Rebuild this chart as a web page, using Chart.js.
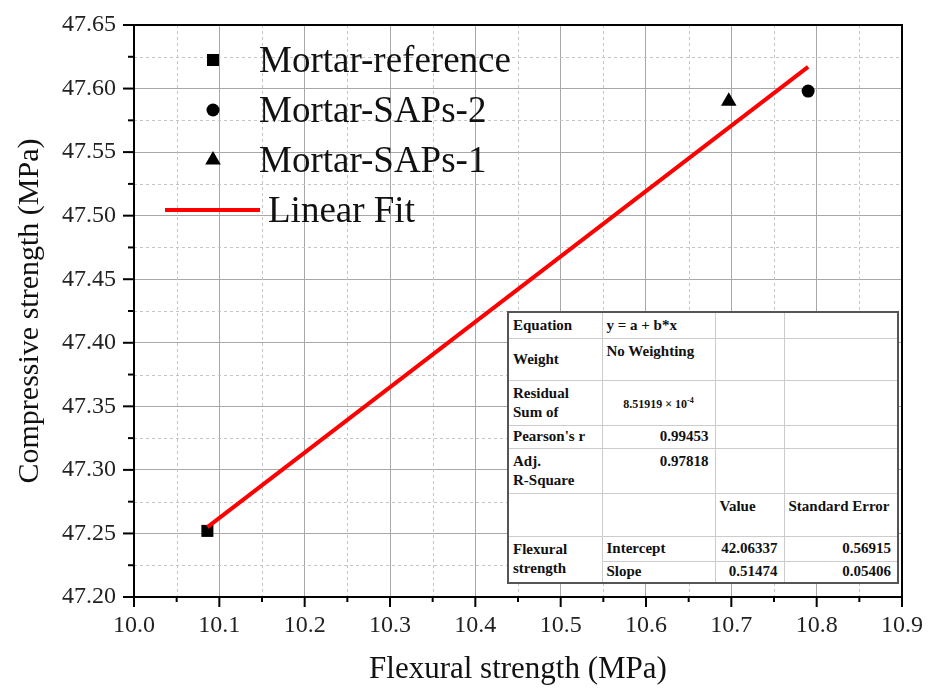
<!DOCTYPE html>
<html>
<head>
<meta charset="utf-8">
<script src="https://cdn.jsdelivr.net/npm/chart.js@4.4.1/dist/chart.umd.min.js"></script>
<style>
  body { margin: 0; background: #fff; }
  #wrap { position: relative; width: 930px; height: 691px; }
  #fit-table {
    position: absolute; left: 507px; top: 311px; width: 390px;
    border-collapse: collapse; table-layout: fixed; background: #fff;
    font-family: "Liberation Serif", serif; font-weight: bold; font-size: 15px; color: #111;
    border: 2px solid #555;
  }
  #fit-table td { border: 1px solid #ccc; padding: 0 4px; line-height: 19px; vertical-align: middle; white-space: nowrap; }
  #fit-table td.top { vertical-align: top; padding-top: 3px; }
  #fit-table td.num { text-align: right; padding-right: 6px; }
  #fit-table td.sci { text-align: center; font-size: 12px; }
</style>
</head>
<body>
<div id="wrap">
  <canvas id="chart" width="930" height="691"></canvas>
  <table id="fit-table">
    <colgroup><col style="width:94px"><col style="width:113px"><col style="width:69px"><col style="width:114px"></colgroup>
    <tr style="height:26px"><td>Equation</td><td>y = a + b*x</td><td></td><td></td></tr>
    <tr style="height:42px"><td>Weight</td><td class="top">No Weighting</td><td></td><td></td></tr>
    <tr style="height:45px"><td>Residual<br>Sum of</td><td class="sci">8.51919 × 10<sup style="font-size:8px">-4</sup></td><td></td><td></td></tr>
    <tr style="height:23px"><td>Pearson's r</td><td class="num">0.99453</td><td></td><td></td></tr>
    <tr style="height:45px"><td>Adj.<br>R-Square</td><td class="num top">0.97818</td><td></td><td></td></tr>
    <tr style="height:43px"><td></td><td></td><td class="top">Value</td><td class="top">Standard Error</td></tr>
    <tr style="height:25px"><td rowspan="2">Flexural<br>strength</td><td>Intercept</td><td class="num">42.06337</td><td class="num">0.56915</td></tr>
    <tr style="height:22px"><td>Slope</td><td class="num">0.51474</td><td class="num">0.05406</td></tr>
  </table>
</div>
<script>
// Data
const refX = [10.086];
const refY = [47.252];
const saps2X = [10.79];
const saps2Y = [47.598];
const saps1X = [10.697];
const saps1Y = [47.590];
const fitX = [10.086, 10.79];
const fitY = [47.255, 47.617];

const seriesNames = ['Mortar-reference', 'Mortar-SAPs-2', 'Mortar-SAPs-1', 'Linear Fit'];

const FONT = '"Liberation Serif", "Times New Roman", serif';

function toPoints(xs, ys) {
  return xs.map((x, i) => ({ x: x, y: ys[i] }));
}

// major ticks every 0.05 (y) / 0.1 (x), minor halfway
function isMajorY(v) { return Math.round(v * 1000) % 50 === 0; }
function isMajorX(v) { return Math.round(v * 100) % 10 === 0; }

// Plugin: dashed minor grid, frame, tick marks, legend
const decorations = {
  id: 'decorations',
  beforeDatasetsDraw(chart) {
    const { ctx, chartArea: a, scales: { x, y } } = chart;
    ctx.save();
    ctx.strokeStyle = '#c4c4c4';
    ctx.lineWidth = 1;
    ctx.setLineDash([3, 3]);
    x.ticks.forEach(t => {
      if (isMajorX(t.value)) return;
      const px = Math.round(x.getPixelForValue(t.value)) + 0.5;
      ctx.beginPath(); ctx.moveTo(px, a.top); ctx.lineTo(px, a.bottom); ctx.stroke();
    });
    y.ticks.forEach(t => {
      if (isMajorY(t.value)) return;
      const py = Math.round(y.getPixelForValue(t.value)) + 0.5;
      ctx.beginPath(); ctx.moveTo(a.left, py); ctx.lineTo(a.right, py); ctx.stroke();
    });
    ctx.restore();
  },
  afterDraw(chart) {
    const { ctx, chartArea: a, scales: { x, y } } = chart;
    ctx.save();
    ctx.strokeStyle = '#000';
    ctx.lineWidth = 2;
    ctx.setLineDash([]);
    ctx.strokeRect(a.left, a.top, a.right - a.left, a.bottom - a.top);
    x.ticks.forEach(t => {
      const px = x.getPixelForValue(t.value);
      const len = isMajorX(t.value) ? 10 : 5;
      ctx.beginPath(); ctx.moveTo(px, a.bottom); ctx.lineTo(px, a.bottom + len); ctx.stroke();
    });
    y.ticks.forEach(t => {
      const py = y.getPixelForValue(t.value);
      const len = isMajorY(t.value) ? 11 : 6;
      ctx.beginPath(); ctx.moveTo(a.left, py); ctx.lineTo(a.left - len, py); ctx.stroke();
    });

    // legend in the upper-left of the plot
    ctx.font = '37px ' + FONT;
    ctx.textBaseline = 'middle';
    chart.data.datasets.forEach((ds, i) => {
      const rowY = 60 + i * 50;
      if (ds.type === 'line') {
        ctx.strokeStyle = ds.borderColor;
        ctx.lineWidth = ds.borderWidth;
        ctx.beginPath(); ctx.moveTo(165, rowY); ctx.lineTo(260, rowY); ctx.stroke();
        ctx.fillStyle = '#111';
        ctx.fillText(ds.label, 268, rowY + 2);
      } else {
        ctx.fillStyle = '#000';
        ctx.strokeStyle = '#000';
        Chart.helpers.drawPoint(ctx, { pointStyle: ds.pointStyle, radius: ds.pointRadius, borderWidth: 0, rotation: 0 }, 213, rowY);
        ctx.fillStyle = '#111';
        ctx.fillText(ds.label, 259, rowY + 2);
      }
    });
    ctx.restore();
  }
};

new Chart(document.getElementById('chart'), {
  type: 'scatter',
  data: {
    datasets: [
      { label: seriesNames[0], data: toPoints(refX, refY), pointStyle: 'rect', pointRadius: 8.5,
        backgroundColor: '#000', borderColor: '#000', borderWidth: 0 },
      { label: seriesNames[1], data: toPoints(saps2X, saps2Y), pointStyle: 'circle', pointRadius: 6.5,
        backgroundColor: '#000', borderColor: '#000', borderWidth: 0 },
      { label: seriesNames[2], data: toPoints(saps1X, saps1Y), pointStyle: 'triangle', pointRadius: 9,
        backgroundColor: '#000', borderColor: '#000', borderWidth: 0 },
      { type: 'line', label: seriesNames[3], data: toPoints(fitX, fitY), borderColor: '#ff0000',
        borderWidth: 4, pointRadius: 0, fill: false, order: -1 }
    ]
  },
  options: {
    responsive: false,
    animation: false,
    layout: { padding: { left: 0, right: 28, top: 25, bottom: 0 } },
    plugins: { legend: { display: false }, tooltip: { enabled: false } },
    scales: {
      x: {
        type: 'linear', min: 10.0, max: 10.9,
        afterFit(scale) { scale.height = 94; },
        ticks: {
          stepSize: 0.05, padding: 0, color: '#222',
          maxRotation: 0, minRotation: 0, autoSkip: false,
          font: { family: FONT, size: 24 },
          callback: v => isMajorX(v) ? v.toFixed(1) : ''
        },
        grid: {
          drawTicks: true, tickLength: 14, tickColor: 'rgba(0,0,0,0)',
          color: ctx => (ctx.tick && isMajorX(ctx.tick.value)) ? '#a8a8a8' : 'rgba(0,0,0,0)',
          lineWidth: 1
        },
        border: { display: false },
        title: {
          display: true, text: 'Flexural strength (MPa)', color: '#111',
          font: { family: FONT, size: 31 }, padding: { top: 0, bottom: 3 }
        }
      },
      y: {
        type: 'linear', min: 47.2, max: 47.65,
        afterFit(scale) { scale.width = 134; },
        ticks: {
          stepSize: 0.025, padding: 0, color: '#222',
          autoSkip: false,
          font: { family: FONT, size: 24 },
          callback: v => isMajorY(v) ? v.toFixed(2) : ''
        },
        grid: {
          drawTicks: true, tickLength: 18, tickColor: 'rgba(0,0,0,0)',
          color: ctx => (ctx.tick && isMajorY(ctx.tick.value)) ? '#a8a8a8' : 'rgba(0,0,0,0)',
          lineWidth: 1
        },
        border: { display: false },
        title: {
          display: true, text: 'Compressive strength (MPa)', color: '#111',
          font: { family: FONT, size: 30 }, padding: { top: 12, bottom: 0 }
        }
      }
    }
  },
  plugins: [decorations]
});
</script>
</body>
</html>
